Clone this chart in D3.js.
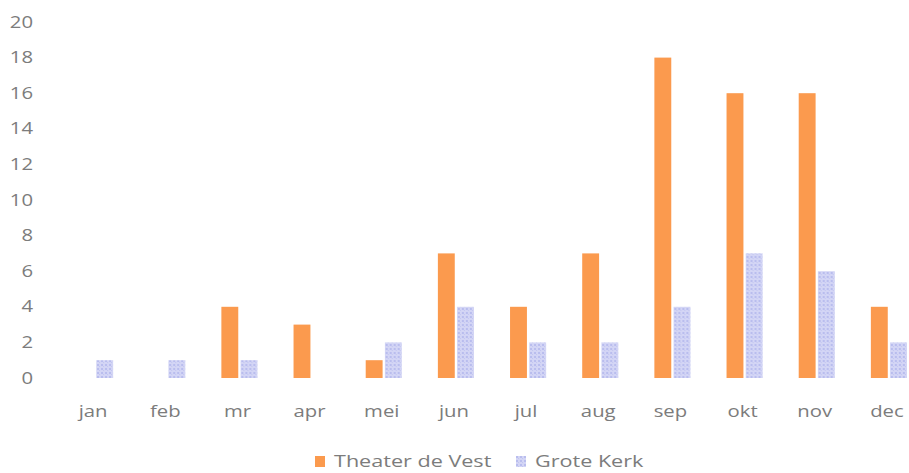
<!DOCTYPE html>
<html>
<head>
<meta charset="utf-8">
<script src="https://cdn.jsdelivr.net/npm/d3@7"></script>
<style>
  body { margin: 0; background: #fff; }
  svg { display: block; }
  text { font-family: "Open Sans", "Noto Sans", sans-serif; fill: #7c7c7c; }
</style>
</head>
<body>
<svg width="909" height="473"></svg>
<script>
// maanden en aantallen per locatie
const months = ['jan', 'feb', 'mr', 'apr', 'mei', 'jun', 'jul', 'aug', 'sep', 'okt', 'nov', 'dec'];
const seriesNames = ['Theater de Vest', 'Grote Kerk'];
const theaterDeVest = [0, 0, 4, 3, 1, 7, 4, 7, 18, 16, 16, 4];
const groteKerk = [1, 1, 1, 0, 2, 4, 2, 2, 4, 7, 6, 2];
const yTicks = [0, 2, 4, 6, 8, 10, 12, 14, 16, 18, 20];

const svg = d3.select('svg');
const sx = 1.27; // tekst is breder dan normaal in het origineel

const defs = svg.append('defs');
const pat = defs.append('pattern')
	.attr('id', 'dots')
	.attr('width', 4).attr('height', 4)
	.attr('patternUnits', 'userSpaceOnUse');
pat.append('rect').attr('width', 4).attr('height', 4).attr('fill', '#d3d5f5');
pat.append('rect').attr('x', 0).attr('y', 0).attr('width', 2).attr('height', 2).attr('fill', '#b9bdee');
pat.append('rect').attr('x', 2).attr('y', 2).attr('width', 1).attr('height', 1).attr('fill', '#c2c5f0');

const colors = ['#fb9a4e', 'url(#dots)'];

const x = d3.scaleBand().domain(months).range([59, 925]).paddingInner(0.5).paddingOuter(0.25);
const x1 = d3.scaleBand().domain(seriesNames).range([0, x.bandwidth()]).paddingInner(0.12);
const y = d3.scaleLinear().domain([0, 20]).range([378, 22]);

// y-as labels
svg.append('g')
	.selectAll('text')
	.data(yTicks)
	.join('text')
	.attr('transform', (d) => `translate(33,${y(d)}) scale(${sx},1)`)
	.attr('dy', '0.35em')
	.attr('text-anchor', 'end')
	.style('font-size', '16px')
	.text((d) => d);

// x-as labels
svg.append('g')
	.selectAll('text')
	.data(months)
	.join('text')
	.attr('transform', (d) => `translate(${x(d) + x.bandwidth() / 2 - 2},417) scale(${sx},1)`)
	.attr('text-anchor', 'middle')
	.style('font-size', '16px')
	.text((d) => d);

const data = months.map((m, i) => ({ month: m, values: [theaterDeVest[i], groteKerk[i]] }));

const groups = svg.append('g')
	.selectAll('g')
	.data(data)
	.join('g')
	.attr('transform', (d) => `translate(${x(d.month)},0)`);

groups.selectAll('rect')
	.data((d) => d.values.map((v, j) => ({ name: seriesNames[j], v, j })))
	.join('rect')
	.attr('x', (d) => x1(d.name))
	.attr('width', x1.bandwidth())
	.attr('y', (d) => y(d.v))
	.attr('height', (d) => y(0) - y(d.v))
	.attr('fill', (d) => colors[d.j]);

// legenda
const legend = svg.append('g');
const legendX = [315, 516];
seriesNames.forEach((name, i) => {
	legend.append('rect')
		.attr('x', legendX[i]).attr('y', 456)
		.attr('width', 10).attr('height', 11)
		.attr('fill', colors[i]);
	legend.append('text')
		.attr('transform', `translate(${legendX[i] + 19},467) scale(${sx},1)`)
		.style('font-size', '17px')
		.text(name);
});
</script>
</body>
</html>
